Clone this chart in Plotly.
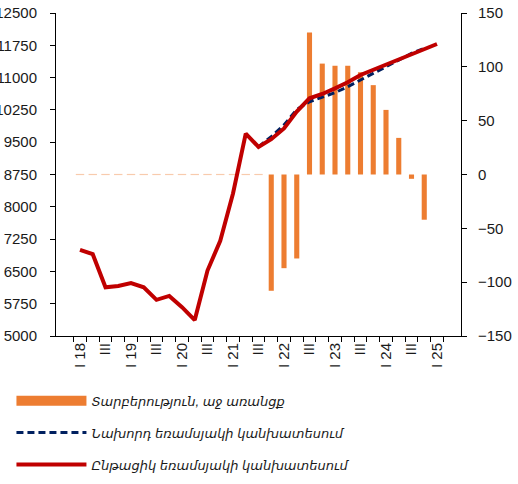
import plotly.graph_objects as go

# ---- data ----
categories = ["I 18", "II 18", "III 18", "IV 18", "I 19", "II 19", "III 19", "IV 19",
              "I 20", "II 20", "III 20", "IV 20", "I 21", "II 21", "III 21", "IV 21",
              "I 22", "II 22", "III 22", "IV 22", "I 23", "II 23", "III 23", "IV 23",
              "I 24", "II 24", "III 24", "IV 24", "I 25"]
tick_labels = ["I 18", "", "III", "", "I 19", "", "III", "", "I 20", "", "III", "",
               "I 21", "", "III", "", "I 22", "", "III", "", "I 23", "", "III", "",
               "I 24", "", "III", "", "I 25"]

current_forecast = [7000, 6900, 6130, 6160, 6230, 6130, 5840, 5930, 5670, 5370,
                    6520, 7210, 8310, 9700, 9390, 9570, 9820, 10210, 10520, 10620,
                    10750, 10890, 11060, 11180, 11310, 11430, 11540, 11660, 11780]
previous_forecast = [None] * 14 + [9390, 9630, 9900, 10260, 10440, 10540, 10650,
                                   10790, 10945, 11085, 11255, 11410, 11560, 11680, None]
difference = [0] * 15 + [-108, -87, -78, 132, 103, 101, 101, 95, 83, 60, 34, -4, -42, None]

left_ticks = [5000, 5750, 6500, 7250, 8000, 8750, 9500, 10250, 11000, 11750, 12500]
right_ticks = [-150, -100, -50, 0, 50, 100, 150]

name_diff = "Տարբերություն, աջ առանցք"
name_prev = "Նախորդ եռամսյակի կանխատեսում"
name_curr = "Ընթացիկ եռամսյակի կանխատեսում"

FONT = "Liberation Sans, Arial, DejaVu Sans, sans-serif"
ORANGE = "#ED7D31"

zero_marks = [0 if v == 0 else None for v in difference]

fig = go.Figure()
fig.add_trace(go.Bar(x=categories, y=difference, name=name_diff, marker_color=ORANGE,
                     marker_line_width=0, yaxis="y", showlegend=False))
fig.add_trace(go.Scatter(x=categories, y=zero_marks, mode="markers", showlegend=False,
                         marker=dict(symbol="line-ew", size=6,
                                     line=dict(color="#F8CBAD", width=1.2)),
                         yaxis="y", hoverinfo="skip"))
# legend entry for the bars (wide rectangle key)
fig.add_trace(go.Scatter(x=[None], y=[None], name=name_diff, mode="lines",
                         line=dict(color=ORANGE, width=14), yaxis="y", legendgroup="a"))
fig.add_trace(go.Scatter(x=categories, y=previous_forecast, name=name_prev, mode="lines",
                         line=dict(color="#002060", width=3, dash="7px,4px"),
                         yaxis="y2", legendgroup="b"))
fig.add_trace(go.Scatter(x=categories, y=current_forecast, name=name_curr, mode="lines",
                         line=dict(color="#C00000", width=4),
                         yaxis="y2", legendgroup="c"))

axis_font = dict(family=FONT, size=15, color="#1a1a1a")

fig.update_layout(
    width=518, height=484,
    margin=dict(l=56, r=57, t=13, b=148, autoexpand=False),
    paper_bgcolor="white", plot_bgcolor="white",
    bargap=0.6,
    showlegend=True,
    legend=dict(x=-0.110, y=-0.154, xanchor="left", yanchor="top",
                orientation="v", itemwidth=70, tracegroupgap=12,
                font=dict(family=FONT, size=13, color="#1a1a1a", style="italic"),
                bgcolor="rgba(0,0,0,0)"),
    xaxis=dict(type="category", categoryorder="array", categoryarray=categories,
               tickmode="array", tickvals=categories, ticktext=tick_labels,
               tickson="boundaries", ticks="outside", ticklen=5, tickcolor="black",
               showline=True, linecolor="black", linewidth=1, automargin=False,
               tickangle=-90, tickfont=axis_font, showgrid=False, zeroline=False),
    yaxis=dict(side="right", range=[-150, 150], tickmode="array", tickvals=right_ticks,
               ticks="outside", ticklen=5, tickcolor="black", automargin=False,
               showline=True, linecolor="black", linewidth=1,
               tickfont=axis_font, showgrid=False, zeroline=False,
               ticklabelstandoff=8),
    yaxis2=dict(side="left", overlaying="y", range=[5000, 12500], tickmode="array",
                tickvals=left_ticks, ticktext=[str(v) for v in left_ticks],
                ticks="outside", ticklen=5, tickcolor="black", automargin=False,
                showline=True, linecolor="black", linewidth=1,
                tickfont=axis_font, showgrid=False, zeroline=False,
                ticklabelstandoff=10),
)

fig.write_html("out.html", config={"displayModeBar": False},
               post_script="document.body.style.margin='0';document.body.style.overflow='hidden';")
